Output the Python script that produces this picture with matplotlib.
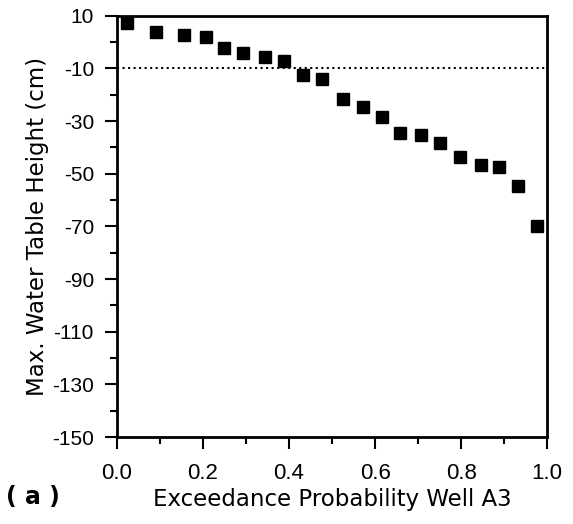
import matplotlib
matplotlib.use("Agg")
import matplotlib.pyplot as plt
from matplotlib.ticker import MultipleLocator, FormatStrFormatter

plt.rcParams["font.family"] = ["Liberation Sans", "DejaVu Sans"]
plt.rcParams["axes.unicode_minus"] = False

# Exceedance probability and maximum water table height, well A3
exceedance = [0.023, 0.091, 0.155, 0.206, 0.250, 0.293, 0.345, 0.389,
              0.433, 0.477, 0.526, 0.571, 0.616, 0.659, 0.706, 0.752,
              0.797, 0.846, 0.888, 0.933, 0.977]
max_height = [7.4, 3.8, 2.7, 1.9, -2.3, -4.2, -5.5, -7.2,
              -12.4, -14.2, -21.6, -24.5, -28.3, -34.5, -35.4, -38.4,
              -43.7, -46.6, -47.5, -54.6, -69.7]
threshold = -10

x_ticks = [0.0, 0.2, 0.4, 0.6, 0.8, 1.0]
y_ticks = list(range(-150, 11, 20))

fig = plt.figure(figsize=(5.73, 5.24), dpi=100)
ax = fig.add_axes([0.204, 0.166, 0.751, 0.804])

ax.axhline(threshold, color="black", linestyle=":", linewidth=1.5, zorder=1)
ax.plot(exceedance, max_height, linestyle="none", marker="s",
        markersize=9, color="black", zorder=3, clip_on=False)

ax.set_xlim(0, 1)
ax.set_ylim(-150, 10)
ax.set_xticks(x_ticks)
ax.set_yticks(y_ticks)
ax.xaxis.set_major_formatter(FormatStrFormatter("%.1f"))
ax.xaxis.set_minor_locator(MultipleLocator(0.1))
ax.yaxis.set_minor_locator(MultipleLocator(10))

ax.tick_params(which="major", direction="out", length=8.5, width=1.5,
               labelsize=15, pad=8, top=False, right=False)
ax.tick_params(axis="x", which="major", labelsize=16, pad=10)
ax.tick_params(which="minor", direction="out", length=5, width=1.5,
               top=False, right=False)

for side in ["left", "right", "top", "bottom"]:
    ax.spines[side].set_linewidth(2)

label_font = dict(family=["DejaVu Sans"], fontsize=16.5)
ax.set_ylabel("Max. Water Table Height (cm)", labelpad=2, **label_font)
ax.set_xlabel("Exceedance Probability Well A3", labelpad=3, **label_font)
fig.text(0.058, 0.038, "( a )", family=["DejaVu Sans"], fontsize=17,
         fontweight="bold", ha="center", va="baseline")

fig.savefig("out.png", dpi=100)
